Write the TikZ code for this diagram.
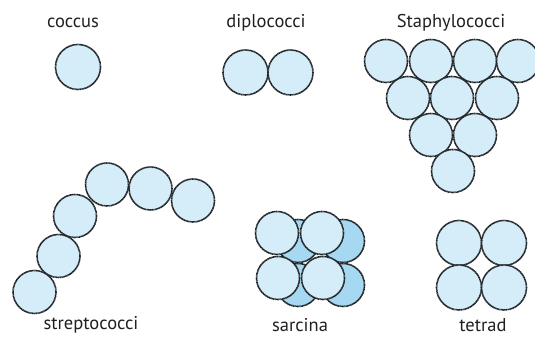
\documentclass[tikz,border=0pt]{standalone}
\usepackage{fontspec}
\setmainfont{PT Sans}
\definecolor{cellfill}{HTML}{D5EDF9}
\definecolor{cellback}{HTML}{A6D9F1}
\definecolor{cellline}{HTML}{202428}
\definecolor{labeltext}{HTML}{231F20}
\begin{document}
\begin{tikzpicture}[x=1pt,y=-1pt,
  cell/.style={circle, inner sep=0pt, outer sep=0pt, minimum size=44pt,
    fill=cellfill, draw=cellline, line width=1.6pt,
    dash pattern=on 0.9pt off 0.4pt},
  backcell/.style={cell, fill=cellback},
  staph/.style={cell, minimum size=43pt},
  label/.style={anchor=base, inner sep=0pt, text=labeltext,
    font=\fontsize{18.5}{20}\selectfont}]
\fill[white] (0,0) rectangle (535,337);
\useasboundingbox (0,0) rectangle (535,337);

% coccus
\node[cell, minimum size=45pt] (c1) at (78,67) {};
\node[label] (lcoccus) at (73,28) {coccus};

% diplococci
\node[cell, minimum size=45pt] (d1) at (245.5,72.5) {};
\node[cell, minimum size=45pt] (d2) at (290.5,72.5) {};
\node[label] (ldiplo) at (266,28) {diplococci};

% staphylococci: inverted triangle of cells
\node[staph] (s1) at (386,61) {};
\node[staph] (s2) at (431,61) {};
\node[staph] (s3) at (475,61) {};
\node[staph] (s4) at (518,61) {};
\node[staph] (s5) at (408,98) {};
\node[staph] (s6) at (452,98) {};
\node[staph] (s7) at (497,98) {};
\node[staph] (s8) at (431,135) {};
\node[staph] (s9) at (475,135) {};
\node[staph] (s10) at (453,171) {};
\node[label] (lstaph) at (451,28) {Staphylococci};

% streptococci: curved chain
\node[cell, minimum size=43pt] (t1) at (34.5,292) {};
\node[cell, minimum size=43pt] (t2) at (58.5,256) {};
\node[cell, minimum size=43pt] (t3) at (75,216) {};
\node[cell, minimum size=43pt] (t4) at (107,184.5) {};
\node[cell, minimum size=43pt] (t5) at (150.5,188.5) {};
\node[cell, minimum size=43pt] (t6) at (193,200.5) {};
\node[label] (lstrep) at (91,329) {streptococci};

% sarcina: back layer then front layer
\node[backcell, minimum size=43pt] (b1) at (298,241) {};
\node[backcell, minimum size=43pt] (b2) at (343,241) {};
\node[backcell, minimum size=43pt] (b3) at (298,285) {};
\node[backcell, minimum size=43pt] (b4) at (343,285) {};
\node[cell, minimum size=43pt] (f1) at (277,233) {};
\node[cell, minimum size=43pt] (f2) at (322,233) {};
\node[cell, minimum size=43pt] (f3) at (278,278) {};
\node[cell, minimum size=43pt] (f4) at (323,278) {};
\node[label] (lsarc) at (300,331) {sarcina};

% tetrad
\node[cell, minimum size=45pt] (q1) at (459,243) {};
\node[cell, minimum size=45pt] (q2) at (504,243) {};
\node[cell, minimum size=45pt] (q3) at (459,287.5) {};
\node[cell, minimum size=45pt] (q4) at (504,287.5) {};
\node[label] (ltetrad) at (483,331) {tetrad};
\end{tikzpicture}
\end{document}
